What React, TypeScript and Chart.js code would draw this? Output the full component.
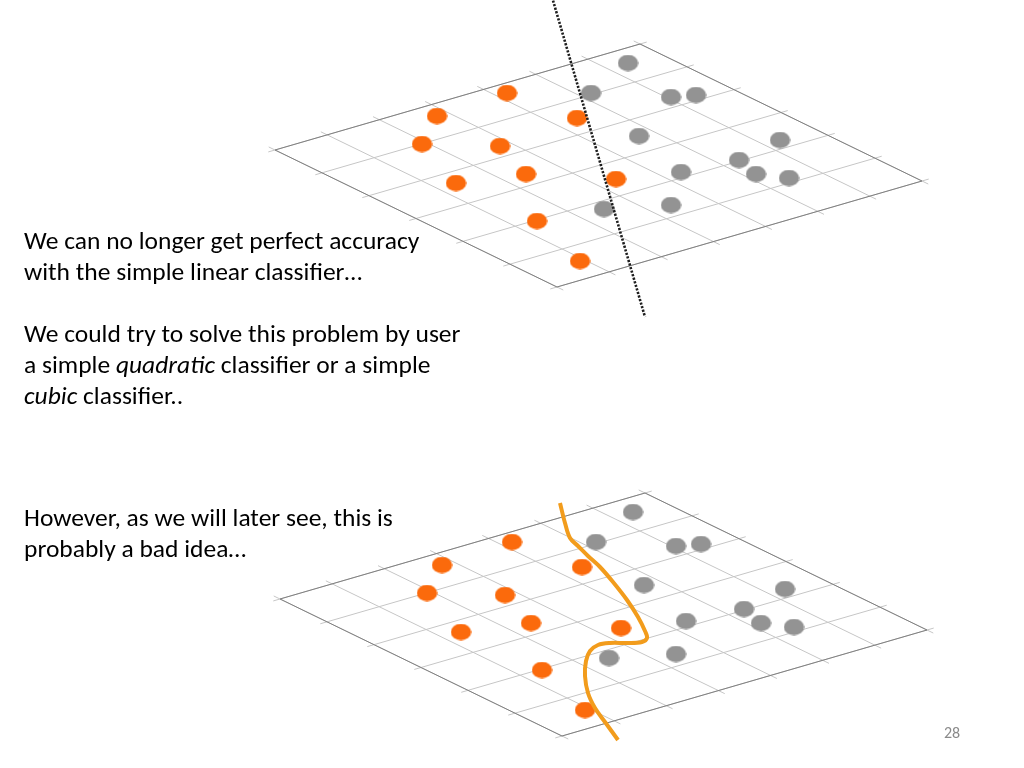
import React, { useEffect, useRef } from "react";
import { Chart, registerables } from "chart.js";

Chart.register(...registerables);

// ---- data (panel coordinates, same data plotted on both panels) ----
const orangeX = [507, 437, 577, 422, 500, 456, 526, 616, 537, 580];
const orangeY = [93, 116, 118, 144, 146, 183, 174, 179, 221, 261];
const grayX = [628, 591, 671, 696, 639, 780, 739, 756, 789, 681, 604, 671];
const grayY = [63, 93, 97, 95, 136, 140, 160, 174, 178, 172, 209, 205];

// linear classifier (dotted line)
const dividerX = [552, 645];
const dividerY = [-3, 317];

// cubic classifier (orange curve)
const curveX = [555, 560, 565, 573, 583, 595, 608, 622, 633, 640, 642, 637, 622, 605, 593, 585, 581, 580, 583, 590, 600, 613];
const curveY = [54, 74, 89, 97, 107, 118, 133, 151, 168, 182, 189, 193, 194, 194, 196, 202, 212, 227, 244, 259, 273, 291];

// grid frame corners and divisions
const gridLeft = [275, 150];
const gridTop = [640, 44];
const gridBottom = [557, 287];
const stepsBack = 7;
const stepsSide = 6;

const textLines1 = [
  "We can no longer get perfect accuracy",
  "with the simple linear classifier…",
];

function ellipseImage(color: string, w: number, h: number) {
  const c = document.createElement("canvas");
  c.width = w;
  c.height = h;
  const ctx = c.getContext("2d")!;
  ctx.fillStyle = color;
  ctx.beginPath();
  ctx.ellipse(w / 2, h / 2, w / 2 - 0.3, h / 2 - 0.3, 0, 0, Math.PI * 2);
  ctx.fill();
  return c;
}

function seg(p: number[], q: number[], color: string, order: number) {
  return {
    type: "scatter" as const,
    data: [
      { x: p[0], y: p[1] },
      { x: q[0], y: q[1] },
    ],
    showLine: true,
    borderColor: color,
    borderWidth: 1,
    pointRadius: 0,
    tension: 0,
    order,
  };
}

function gridDatasets() {
  const a = [(gridTop[0] - gridLeft[0]) / stepsBack, (gridTop[1] - gridLeft[1]) / stepsBack];
  const b = [(gridBottom[0] - gridLeft[0]) / stepsSide, (gridBottom[1] - gridLeft[1]) / stepsSide];
  const la = Math.hypot(a[0], a[1]);
  const lb = Math.hypot(b[0], b[1]);
  const ext = 7;
  const ea = [(a[0] / la) * ext, (a[1] / la) * ext];
  const eb = [(b[0] / lb) * ext, (b[1] / lb) * ext];
  const light = "#c6c6c6";
  const dark = "#808080";
  const out: any[] = [];
  for (let i = 0; i <= stepsBack; i++) {
    const p = [gridLeft[0] + i * a[0], gridLeft[1] + i * a[1]];
    const q = [p[0] + stepsSide * b[0], p[1] + stepsSide * b[1]];
    out.push(seg([p[0] - eb[0], p[1] - eb[1]], [q[0] + eb[0], q[1] + eb[1]], light, 20));
    if (i === 0 || i === stepsBack) out.push(seg(p, q, dark, 10));
  }
  for (let j = 0; j <= stepsSide; j++) {
    const p = [gridLeft[0] + j * b[0], gridLeft[1] + j * b[1]];
    const q = [p[0] + stepsBack * a[0], p[1] + stepsBack * a[1]];
    out.push(seg([p[0] - ea[0], p[1] - ea[1]], [q[0] + ea[0], q[1] + ea[1]], light, 20));
    if (j === 0 || j === stepsSide) out.push(seg(p, q, dark, 10));
  }
  return out;
}

function Panel(props: { left: number; top: number; width: number; height: number; mode: "line" | "curve" }) {
  const ref = useRef<HTMLCanvasElement>(null);
  useEffect(() => {
    const canvas = ref.current!;
    const orangeDot = ellipseImage("#fb6a0c", 21, 17);
    const grayDot = ellipseImage("#939393", 21, 17);
    const datasets: any[] = [...gridDatasets()];
    datasets.push({
      type: "scatter",
      data: orangeX.map((x, i) => ({ x, y: orangeY[i] })),
      pointStyle: orangeDot,
      showLine: false,
      order: 2,
    });
    datasets.push({
      type: "scatter",
      data: grayX.map((x, i) => ({ x, y: grayY[i] })),
      pointStyle: grayDot,
      showLine: false,
      order: 2,
    });
    if (props.mode === "line") {
      datasets.push({
        type: "scatter",
        data: dividerX.map((x, i) => ({ x, y: dividerY[i] })),
        showLine: true,
        borderColor: "#1e1e1e",
        borderWidth: 2.6,
        borderDash: [2.2, 1.5],
        pointRadius: 0,
        order: 0,
      });
    } else {
      datasets.push({
        type: "scatter",
        data: curveX.map((x, i) => ({ x, y: curveY[i] })),
        showLine: true,
        borderColor: "#f29c1c",
        borderWidth: 4,
        tension: 0.35,
        pointRadius: 0,
        order: 0,
      });
    }
    const chart = new Chart(canvas, {
      type: "scatter",
      data: { datasets },
      options: {
        animation: false,
        responsive: false,
        maintainAspectRatio: false,
        events: [],
        layout: { padding: 0, autoPadding: false },
        plugins: { legend: { display: false }, tooltip: { enabled: false } },
        scales: {
          x: { type: "linear", min: 0, max: props.width, display: false },
          y: { type: "linear", min: 0, max: props.height, reverse: true, display: false },
        },
      },
    });
    return () => chart.destroy();
  }, []);
  return (
    <canvas
      ref={ref}
      width={props.width}
      height={props.height}
      style={{ position: "absolute", left: props.left, top: props.top, width: props.width, height: props.height }}
    />
  );
}

const textStyle: React.CSSProperties = {
  position: "absolute",
  left: 24,
  fontFamily: "Carlito, Calibri, Lato, 'Open Sans', sans-serif",
  fontSize: 25.5,
  lineHeight: "31px",
  color: "#000",
  whiteSpace: "nowrap",
};

export default function App() {
  return (
    <div
      style={{
        position: "fixed",
        left: 0,
        top: 0,
        width: 1024,
        height: 768,
        overflow: "hidden",
        background: "#fff",
      }}
    >
      <Panel left={0} top={0} width={1024} height={330} mode="line" />
      <Panel left={5} top={449} width={1019} height={319} mode="curve" />
      <div style={{ ...textStyle, top: 225 }}>
        <div>{textLines1[0]}</div>
        <div>{textLines1[1]}</div>
        <div>&nbsp;</div>
        <div>We could try to solve this problem by user</div>
        <div>
          a simple <i>quadratic</i> classifier or a simple
        </div>
        <div>
          <i>cubic</i> classifier..
        </div>
      </div>
      <div style={{ ...textStyle, top: 502 }}>
        <div>However, as we will later see, this is</div>
        <div>probably a bad idea…</div>
      </div>
      <div
        style={{
          position: "absolute",
          left: 944,
          top: 723,
          fontFamily: "Carlito, Calibri, Lato, sans-serif",
          fontSize: 16,
          color: "#8a8a8a",
        }}
      >
        28
      </div>
    </div>
  );
}
